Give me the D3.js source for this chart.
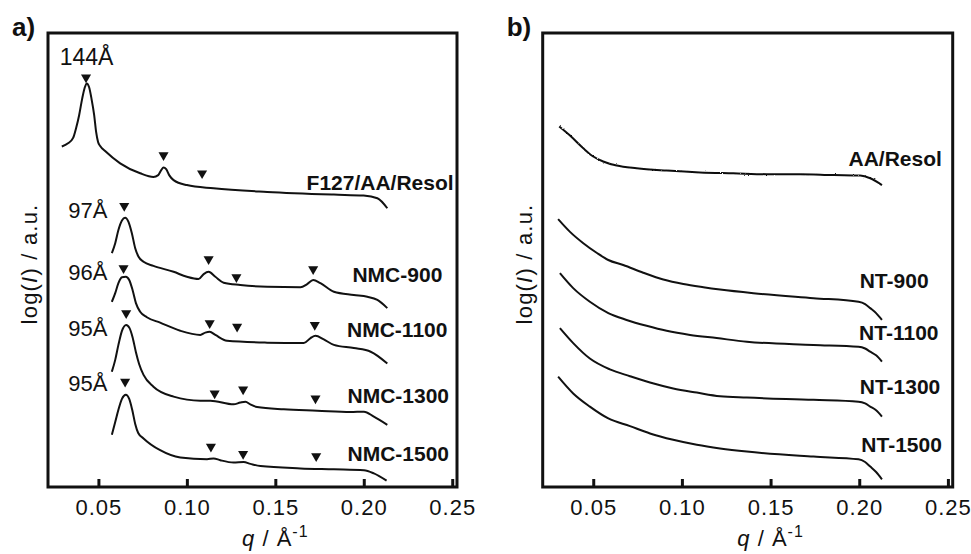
<!DOCTYPE html>
<html>
<head>
    <meta charset="utf-8">
    <title>SAXS patterns</title>
    <script src="https://cdn.jsdelivr.net/npm/d3@7"></script>
    <style>
        html, body {
            margin: 0;
            padding: 0;
            background: #fff;
        }
        text {
            font-family: "Liberation Sans", Arial, sans-serif;
            fill: #111;
        }
        .tick text {
            font-size: 22px;
            letter-spacing: 1px;
        }
        .name {
            font-size: 21px;
            font-weight: bold;
        }
    </style>
</head>
<body>
<svg id="chart" width="971" height="554"></svg>

<script>
    // q axis (1/Å), shared by both panels
    const qDomain = [0.0215, 0.2527];
    const qTicks = [0.05, 0.10, 0.15, 0.20, 0.25];

    // panel a) curves, [q, log(I) in a.u.]
    const namesA = ["F127/AA/Resol", "NMC-900", "NMC-1100", "NMC-1300", "NMC-1500"];
    const f127 = [[0.0293,75.0],[0.0328,75.7],[0.0357,76.9],[0.0374,79.1],[0.0391,81.9],[0.0408,85.5],[0.0422,87.9],
        [0.0434,88.9],[0.0447,88.1],[0.0461,85.5],[0.0476,81.9],[0.0487,78.2],[0.0498,76.0],[0.0510,75.1],[0.0538,74.0],
        [0.0623,71.3],[0.0736,69.1],[0.0811,68.3],[0.0838,68.7],[0.0855,69.8],[0.0868,70.4],[0.0883,70.0],[0.0900,68.7],
        [0.0925,67.6],[0.1000,66.5],[0.1151,65.8],[0.1454,65.0],[0.1831,64.4],[0.1999,64.2],[0.2077,63.6],[0.2133,61.4]];
    const nmc900 = [[0.0576,51.5],[0.0595,53.7],[0.0613,56.6],[0.0633,58.7],[0.0651,59.3],[0.0670,58.4],[0.0689,55.9],
        [0.0708,52.6],[0.0727,50.7],[0.0755,49.6],[0.0811,48.7],[0.0925,47.4],[0.1000,46.3],[0.1066,45.8],[0.1095,46.9],
        [0.1123,47.4],[0.1161,46.3],[0.1208,45.0],[0.1302,44.5],[0.1454,44.1],[0.1642,44.0],[0.1680,44.7],[0.1714,45.6],
        [0.1755,44.9],[0.1831,43.0],[0.1944,42.3],[0.2020,41.9],[0.2077,41.2],[0.2133,39.4]];
    const nmc1100 = [[0.0576,40.8],[0.0595,42.7],[0.0613,44.9],[0.0633,46.2],[0.0655,46.3],[0.0674,45.6],[0.0693,43.4],
        [0.0712,40.5],[0.0736,38.6],[0.0774,37.4],[0.0849,36.2],[0.0963,34.4],[0.1076,33.5],[0.1104,34.0],[0.1129,34.2],
        [0.1161,33.5],[0.1227,32.2],[0.1454,31.8],[0.1661,31.7],[0.1699,32.8],[0.1727,33.3],[0.1774,32.5],[0.1831,31.3],
        [0.1944,30.6],[0.2039,29.8],[0.2133,27.2]];
    const nmc1300 = [[0.0576,25.4],[0.0595,28.0],[0.0613,31.3],[0.0633,34.4],[0.0657,35.7],[0.0676,35.0],[0.0693,33.0],
        [0.0712,29.7],[0.0730,27.1],[0.0755,24.7],[0.0811,22.1],[0.0925,19.9],[0.1076,19.0],[0.1133,19.0],[0.1264,18.2],
        [0.1302,18.6],[0.1331,18.8],[0.1359,18.2],[0.1397,17.6],[0.1548,17.1],[0.1737,16.8],[0.1925,16.5],[0.2001,16.6],
        [0.2057,15.5],[0.2133,13.7]];
    const nmc1500 = [[0.0576,11.5],[0.0595,14.3],[0.0613,17.0],[0.0633,19.4],[0.0655,20.3],[0.0674,19.4],[0.0691,17.0],
        [0.0708,13.9],[0.0725,11.9],[0.0755,10.7],[0.0849,8.1],[0.0963,6.5],[0.1114,6.1],[0.1151,6.3],[0.1189,5.9],
        [0.1264,5.4],[0.1321,5.5],[0.1359,5.1],[0.1416,4.6],[0.1642,4.1],[0.1831,3.9],[0.2001,3.7],[0.2057,3.0],[0.2129,1.4]];

    // reflection markers (triangles) for panel a
    const peaksA = [
        [[0.0430,90.2],[0.0868,73.1],[0.1086,69.1]],
        [[0.0646,61.9],[0.1123,50.2],[0.1280,46.2],[0.1714,48.0]],
        [[0.0642,48.2],[0.1129,36.1],[0.1284,35.3],[0.1723,35.7]],
        [[0.0657,38.3],[0.1157,20.6],[0.1318,21.5],[0.1727,19.5]],
        [[0.0651,23.2],[0.1136,8.9],[0.1318,7.3],[0.1731,6.8]]
    ];
    // d-spacing labels and their anchors (right end, baseline)
    const dLabels = ["144Å", "97Å", "96Å", "95Å", "95Å"];
    const dAnchors = [[0.0585,93.0],[0.0551,59.2],[0.0551,45.6],[0.0551,33.3],[0.0551,21.1]];
    const nameAnchorsA = [[0.2508,65.4],[0.2444,45.2],[0.2473,33.1],[0.2482,18.4],[0.2482,5.8]];

    // panel b) curves
    const namesB = ["AA/Resol", "NT-900", "NT-1100", "NT-1300", "NT-1500"];
    const aaResol = [[0.0308,79.4],[0.0369,77.4],[0.0444,74.6],[0.0500,72.8],[0.0556,71.7],[0.0632,70.8],[0.0745,70.2],
        [0.0914,69.7],[0.1102,69.3],[0.1290,69.1],[0.1479,68.9],[0.1666,68.9],[0.1854,68.7],[0.2005,68.6],[0.2062,68.0],
        [0.2128,66.5]];
    const nt900 = [[0.0302,59.0],[0.0369,56.2],[0.0444,53.7],[0.0519,51.6],[0.0585,50.0],[0.0669,48.9],[0.0782,47.2],
        [0.0895,45.7],[0.1008,44.7],[0.1121,44.0],[0.1215,43.5],[0.1403,42.7],[0.1742,41.6],[0.1996,40.8],[0.2033,40.3],
        [0.2062,39.4],[0.2095,38.3],[0.2128,36.8]];
    const nt1100 = [[0.0312,47.1],[0.0387,43.8],[0.0481,40.8],[0.0585,38.3],[0.0688,36.8],[0.0801,35.5],[0.0914,34.4],
        [0.1046,33.5],[0.1196,32.8],[0.1366,32.0],[0.1742,31.3],[0.1996,30.9],[0.2033,30.5],[0.2062,29.8],[0.2095,29.0],
        [0.2128,27.6]];
    const nt1300 = [[0.0312,35.0],[0.0387,31.7],[0.0481,28.3],[0.0594,25.9],[0.0707,24.4],[0.0820,23.0],[0.0951,21.7],
        [0.1084,20.8],[0.1215,20.0],[0.1366,19.7],[0.1742,19.2],[0.1996,18.8],[0.2033,18.4],[0.2062,17.7],[0.2095,16.9],
        [0.2128,15.5]];
    const nt1500 = [[0.0302,24.3],[0.0387,20.6],[0.0481,17.7],[0.0585,15.1],[0.0707,13.4],[0.0820,11.8],[0.0951,10.4],
        [0.1084,9.3],[0.1215,8.5],[0.1366,7.8],[0.1742,6.7],[0.1996,6.1],[0.2033,5.5],[0.2062,4.5],[0.2095,3.3],
        [0.2128,1.7]];
    const nameAnchorsB = [[0.2466,70.6],[0.2391,43.8],[0.2447,32.4],[0.2457,20.5],[0.2466,7.8]];

    const svg = d3.select("#chart");
    const plotTop = 33, plotBottom = 487;

    // slight roughness for the raw (unsmoothed) AA/Resol trace
    const rough = svg.append("defs").append("filter")
        .attr("id", "rough")
        .attr("x", "-5%").attr("y", "-20%")
        .attr("width", "110%").attr("height", "140%");
    rough.append("feTurbulence")
        .attr("type", "fractalNoise")
        .attr("baseFrequency", "0.6 0.6")
        .attr("numOctaves", 1)
        .attr("seed", 3)
        .attr("result", "noise");
    rough.append("feDisplacementMap")
        .attr("in", "SourceGraphic")
        .attr("in2", "noise")
        .attr("scale", 2.2)
        .attr("xChannelSelector", "R")
        .attr("yChannelSelector", "G");

    function drawPanel(opts) {
        const x = d3.scaleLinear().domain(qDomain).range([opts.left, opts.right]);
        const y = d3.scaleLinear().domain([0, 100]).range([plotBottom, plotTop]);
        const g = svg.append("g");

        // curves
        const line = d3.line()
            .x(d => x(d[0]))
            .y(d => y(d[1]))
            .curve(d3.curveMonotoneX);
        g.selectAll("path.curve")
            .data(opts.series)
            .join("path")
            .attr("class", "curve")
            .attr("d", line)
            .attr("fill", "none")
            .attr("stroke", "#111")
            .attr("stroke-width", 2)
            .attr("stroke-linejoin", "round")
            .attr("filter", (d, i) => opts.noisy === i ? "url(#rough)" : null);

        // sample names
        g.selectAll("text.name")
            .data(opts.names)
            .join("text")
            .attr("class", "name")
            .attr("text-anchor", "end")
            .attr("x", (d, i) => x(opts.nameAnchors[i][0]))
            .attr("y", (d, i) => y(opts.nameAnchors[i][1]))
            .text(d => d);

        // bottom axis with inward ticks
        const axis = d3.axisBottom(x)
            .tickValues(qTicks)
            .tickFormat(d3.format(".2f"))
            .tickSizeInner(-8)
            .tickSizeOuter(0)
            .tickPadding(12);
        const ax = g.append("g")
            .attr("transform", `translate(0,${plotBottom})`)
            .call(axis);
        ax.select(".domain").remove();
        ax.selectAll(".tick line").attr("stroke", "#111").attr("stroke-width", 3);
        ax.selectAll(".tick text").attr("fill", "#111").style("font-family", "'Liberation Sans', Arial, sans-serif");

        // frame
        g.append("rect")
            .attr("x", opts.left)
            .attr("y", plotTop)
            .attr("width", opts.right - opts.left)
            .attr("height", plotBottom - plotTop)
            .attr("fill", "none")
            .attr("stroke", "#111")
            .attr("stroke-width", 3);

        // x title
        const xt = g.append("text")
            .attr("x", x(0.15))
            .attr("y", 546)
            .attr("text-anchor", "middle")
            .style("font-size", "22px")
            .style("letter-spacing", "1px");
        xt.append("tspan").style("font-style", "italic").text("q");
        xt.append("tspan").text(" / Å");
        xt.append("tspan").attr("dy", -9).style("font-size", "16px").text("-1");

        // y title
        const yt = g.append("text")
            .attr("transform", `translate(${opts.left - 11},264) rotate(-90)`)
            .attr("text-anchor", "middle")
            .style("font-size", "22px")
            .style("letter-spacing", "1.2px");
        yt.append("tspan").text("log(");
        yt.append("tspan").style("font-style", "italic").text("I");
        yt.append("tspan").text(") / a.u.");

        // panel letter
        g.append("text")
            .attr("x", opts.left - 36)
            .attr("y", 36)
            .style("font-size", "26px")
            .style("font-weight", "bold")
            .text(opts.letter);

        return {g, x, y};
    }

    const pa = drawPanel({
        left: 48, right: 457, letter: "a)",
        series: [f127, nmc900, nmc1100, nmc1300, nmc1500],
        names: namesA, nameAnchors: nameAnchorsA
    });

    // reflection triangles
    const tri = d3.symbol().type(d3.symbolTriangle).size(44);
    pa.g.selectAll("path.peak")
        .data(peaksA.flat())
        .join("path")
        .attr("class", "peak")
        .attr("d", tri)
        .attr("transform", d => `translate(${pa.x(d[0])},${pa.y(d[1])}) rotate(180)`)
        .attr("fill", "#111");

    // d-spacing labels
    pa.g.selectAll("text.dlab")
        .data(dLabels)
        .join("text")
        .attr("class", "dlab")
        .attr("text-anchor", "end")
        .attr("x", (d, i) => pa.x(dAnchors[i][0]))
        .attr("y", (d, i) => pa.y(dAnchors[i][1]))
        .style("font-size", (d, i) => i === 0 ? "23px" : "22px")
        .text(d => d);

    drawPanel({
        left: 542.7, right: 952.7, letter: "b)", noisy: 0,
        series: [aaResol, nt900, nt1100, nt1300, nt1500],
        names: namesB, nameAnchors: nameAnchorsB
    });
</script>
</body>
</html>
